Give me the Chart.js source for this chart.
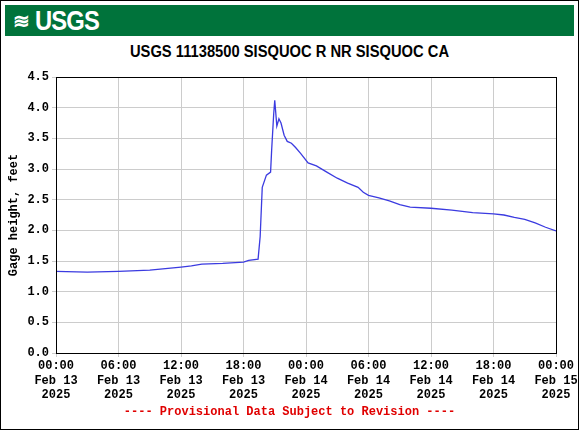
<!DOCTYPE html>
<html><head><meta charset="utf-8">
<script src="https://cdn.jsdelivr.net/npm/chart.js@4"></script>
<style>
  body { margin: 0; background: #fff; }
  #wrap { position: relative; width: 577px; height: 428px; border: 1px solid #000; overflow: hidden; }
  #hdr { position: absolute; left: 4px; top: 4px; width: 569px; height: 31px; background: #00733b; }
  #logo { position: absolute; left: 30px; top: 0px; color: #fff; font: bold 28px "Liberation Sans", Arial, sans-serif; letter-spacing: -1px; transform: scaleX(0.85); transform-origin: left; }
  #title { position: absolute; top: 42px; width: 100%; text-align: center; font: bold 16px "Liberation Sans", Arial, sans-serif; transform: scaleX(0.92); }
  #foot { position: absolute; top: 404px; width: 100%; text-align: center; color: #e00000; font: bold 12px "Liberation Mono", monospace; }
  canvas { position: absolute; left: 0; top: 0; }
</style></head>
<body><div id="wrap">
<div id="hdr"><span style="position:absolute;left:8px;top:4px;color:#fff;font:bold 20px sans-serif">≋</span><span id="logo">USGS</span></div>
<div id="title">USGS 11138500 SISQUOC R NR SISQUOC CA</div>
<canvas id="c" width="579" height="430"></canvas>
<div id="foot">---- Provisional Data Subject to Revision ----</div>
</div>
<script>
// hours since Feb 13 00:00, gage height in feet
const hours = [0, 3, 6, 9, 12, 13, 14, 16, 18, 18.5, 19.4, 19.6, 19.8, 20.2, 20.6, 20.7, 20.9, 21.0, 21.2, 21.4, 21.6, 21.9, 22.2, 22.6, 23, 23.5, 24.2, 25, 26, 27, 28, 29, 29.5, 30, 31, 32, 33, 34, 36, 38, 40, 42, 43, 44, 45, 46, 47, 48];
const height = [1.33, 1.32, 1.33, 1.35, 1.40, 1.42, 1.45, 1.46, 1.48, 1.51, 1.53, 1.9, 2.7, 2.9, 2.95, 3.3, 3.9, 4.12, 3.7, 3.82, 3.75, 3.55, 3.45, 3.42, 3.35, 3.25, 3.1, 3.05, 2.95, 2.85, 2.77, 2.7, 2.62, 2.57, 2.53, 2.48, 2.42, 2.38, 2.36, 2.33, 2.29, 2.27, 2.25, 2.21, 2.18, 2.12, 2.05, 1.99];
const xTicks = [0, 6, 12, 18, 24, 30, 36, 42, 48];
const xLabels = [
  ['00:00', 'Feb 13', '2025'], ['06:00', 'Feb 13', '2025'], ['12:00', 'Feb 13', '2025'],
  ['18:00', 'Feb 13', '2025'], ['00:00', 'Feb 14', '2025'], ['06:00', 'Feb 14', '2025'],
  ['12:00', 'Feb 14', '2025'], ['18:00', 'Feb 14', '2025'], ['00:00', 'Feb 15', '2025']
];

const mono = { family: '"Liberation Mono", monospace', size: 12, weight: 'bold' };

new Chart(document.getElementById('c'), {
  type: 'line',
  data: { datasets: [{ data: hours.map((h, i) => ({ x: h, y: height[i] })), borderColor: '#3b3be0', borderWidth: 1.3, pointRadius: 0, tension: 0 }] },
  options: {
    responsive: false, animation: false,
    layout: { padding: { left: 6, top: 76, right: 24, bottom: 30 } },
    plugins: { legend: { display: false }, tooltip: { enabled: false } },
    scales: {
      x: {
        type: 'linear', min: 0, max: 48,
        afterBuildTicks: s => { s.ticks = xTicks.map(v => ({ value: v })); },
        afterFit: s => { s.height = 48; },
        ticks: { color: '#000', font: mono, padding: 2, maxRotation: 0, callback: (v) => xLabels[xTicks.indexOf(v)] },
        grid: { color: '#cccccc', tickLength: 4 },
        border: { color: '#000' }
      },
      y: {
        min: 0, max: 4.5,
        afterFit: s => { s.width = 49; },
        ticks: { stepSize: 0.5, color: '#000', font: mono, padding: 3, callback: v => v.toFixed(1) },
        grid: { color: '#cccccc', tickLength: 4 },
        border: { color: '#000' },
        title: { display: true, text: 'Gage height, feet', color: '#000', font: mono, padding: 0 }
      }
    }
  },
  plugins: [{
    id: 'frame',
    afterDraw(c) {
      const a = c.chartArea, g = c.ctx;
      g.save(); g.strokeStyle = '#000'; g.lineWidth = 1;
      g.strokeRect(a.left + 0.5, a.top + 0.5, a.width, a.height); g.restore();
    }
  }]
});
</script></body></html>
